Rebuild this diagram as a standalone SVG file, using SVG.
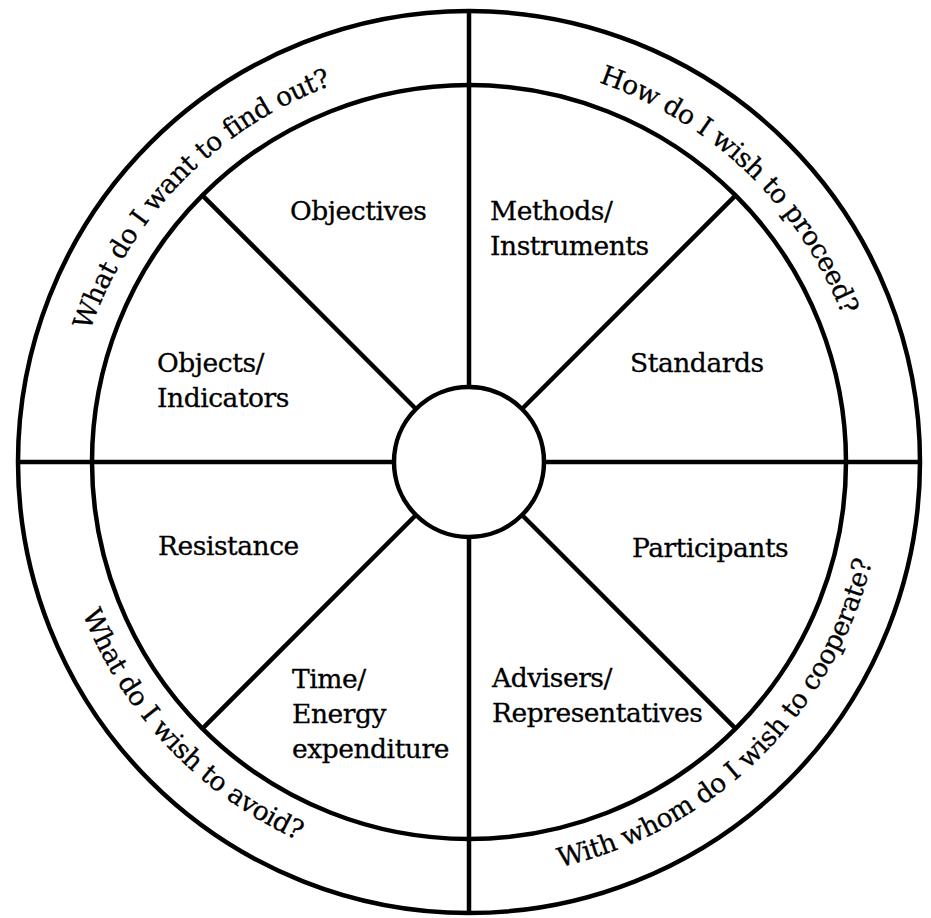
<svg xmlns="http://www.w3.org/2000/svg" width="931" height="918" viewBox="0 0 931 918">
<style>
.ln{fill:none;stroke:#000;stroke-width:4.5}
.t{font-family:"DejaVu Serif","Liberation Serif",serif;font-size:26.5px;letter-spacing:-0.45px;fill:#000;stroke:#000;stroke-width:0.3}
</style>
<defs>
<path id="pTL" d="M 82.6 569.2 A 401 401 0 0 1 569.4 73.8"/>
<path id="pTR" d="M 356.4 77.1 A 401 401 0 0 1 858.6 557.0"/>
<path id="pBL" d="M 71.1 344.1 A 415 415 0 0 0 565.9 865.5"/>
<path id="pBR" d="M 357.4 861.7 A 415 415 0 0 0 871.0 358.8"/>
</defs>
<rect width="931" height="918" fill="#fff"/>
<g id="wheel">
<circle class="ln" cx="469" cy="462" r="451"/>
<circle class="ln" cx="469" cy="462" r="377"/>
<circle class="ln" cx="469" cy="462" r="75"/>
</g>
<g id="connectors">
<line class="ln" x1="469" y1="11" x2="469" y2="387"/>
<line class="ln" x1="469" y1="537" x2="469" y2="913"/>
<line class="ln" x1="18" y1="462" x2="394" y2="462"/>
<line class="ln" x1="544" y1="462" x2="920" y2="462"/>
<line class="ln" x1="416" y1="409" x2="202.4" y2="195.4"/>
<line class="ln" x1="522" y1="409" x2="735.6" y2="195.4"/>
<line class="ln" x1="416" y1="515" x2="202.4" y2="728.6"/>
<line class="ln" x1="522" y1="515" x2="735.6" y2="728.6"/>
</g>
<g id="ring-find-out"><text class="t"><textPath href="#pTL" startOffset="50%" text-anchor="middle">What do I want to find out?</textPath></text></g>
<g id="ring-proceed"><text class="t"><textPath href="#pTR" startOffset="50%" text-anchor="middle">How do I wish to proceed?</textPath></text></g>
<g id="ring-avoid"><text class="t"><textPath href="#pBL" startOffset="50%" text-anchor="middle">What do I wish to avoid?</textPath></text></g>
<g id="ring-cooperate"><text class="t"><textPath href="#pBR" startOffset="50%" text-anchor="middle">With whom do I wish to cooperate?</textPath></text></g>
<g id="objectives"><text class="t" x="290" y="220">Objectives</text></g>
<g id="objects-indicators"><text class="t" x="157" y="372">Objects/</text><text class="t" x="157" y="407">Indicators</text></g>
<g id="methods-instruments"><text class="t" x="490" y="220">Methods/</text><text class="t" x="490" y="255">Instruments</text></g>
<g id="standards"><text class="t" x="630" y="372">Standards</text></g>
<g id="resistance"><text class="t" x="158" y="555">Resistance</text></g>
<g id="time-energy"><text class="t" x="292" y="688">Time/</text><text class="t" x="292" y="723">Energy</text><text class="t" x="292" y="758">expenditure</text></g>
<g id="participants"><text class="t" x="632" y="557">Participants</text></g>
<g id="advisers-representatives"><text class="t" x="492" y="687">Advisers/</text><text class="t" x="492" y="722">Representatives</text></g>
</svg>
